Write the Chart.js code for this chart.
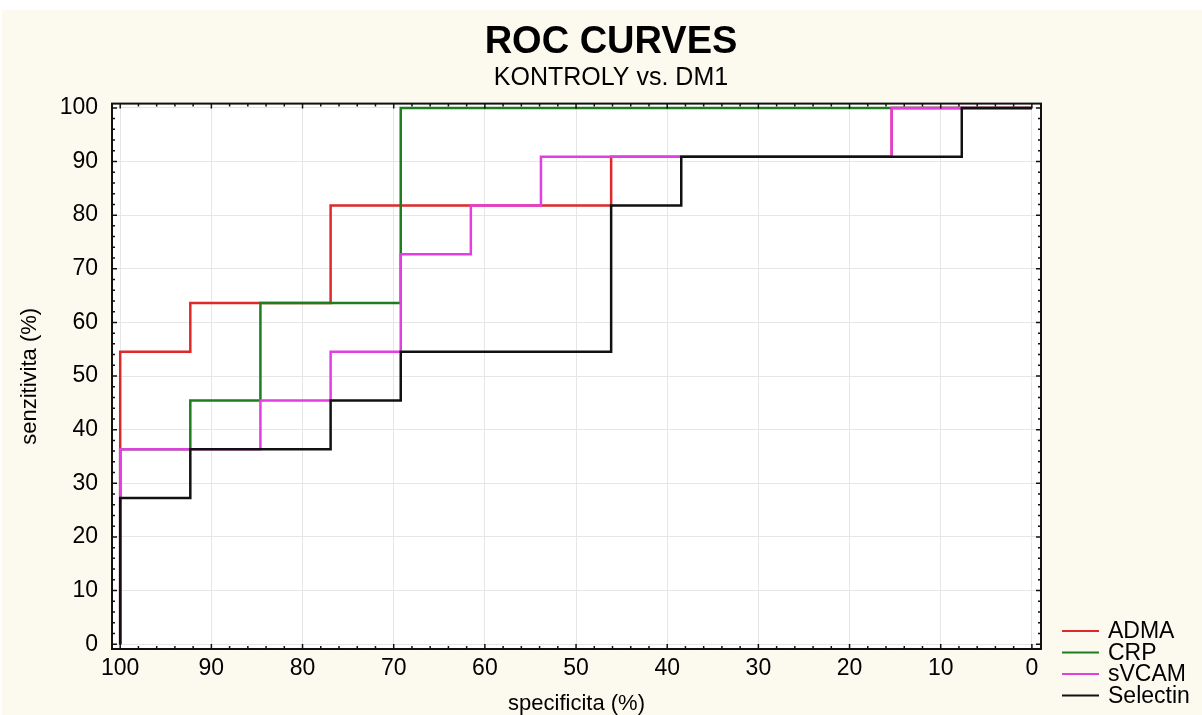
<!DOCTYPE html>
<html>
<head>
<meta charset="utf-8">
<script src="https://cdn.jsdelivr.net/npm/chart.js@4.4.0/dist/chart.umd.min.js"></script>
<style>
  html, body { margin: 0; padding: 0; background: #ffffff; }
  #paper { position: absolute; left: 2px; top: 10px; width: 1200px; height: 705px; background: #fcf9ef; }
  #wrap { position: absolute; left: 0; top: 0; width: 1202px; height: 715px; }
</style>
</head>
<body>
<div id="paper"></div>
<div id="wrap"><canvas id="roc" width="1202" height="715"></canvas></div>
<script>
// ROC staircases: specificity (%) on x, sensitivity (%) on y
const admaSpec = [100, 100, 92.31, 92.31, 76.92, 76.92, 46.15, 46.15, 15.38, 15.38, 0];
const admaSens = [0, 54.55, 54.55, 63.64, 63.64, 81.82, 81.82, 90.91, 90.91, 100, 100];

const crpSpec = [100, 100, 92.31, 92.31, 84.62, 84.62, 69.23, 69.23, 0];
const crpSens = [0, 36.36, 36.36, 45.45, 45.45, 63.64, 63.64, 100, 100];

const svcamSpec = [100, 100, 84.62, 84.62, 76.92, 76.92, 69.23, 69.23, 61.54, 61.54, 53.85, 53.85, 15.38, 15.38, 0];
const svcamSens = [0, 36.36, 36.36, 45.45, 45.45, 54.55, 54.55, 72.73, 72.73, 81.82, 81.82, 90.91, 90.91, 100, 100];

const selectinSpec = [100, 100, 92.31, 92.31, 76.92, 76.92, 69.23, 69.23, 46.15, 46.15, 38.46, 38.46, 7.69, 7.69, 0];
const selectinSens = [0, 27.27, 27.27, 36.36, 36.36, 45.45, 45.45, 54.55, 54.55, 81.82, 81.82, 90.91, 90.91, 100, 100];

const xTicks = [0, 10, 20, 30, 40, 50, 60, 70, 80, 90, 100];
const yTicks = [0, 10, 20, 30, 40, 50, 60, 70, 80, 90, 100];

const FONT = '"Liberation Sans", Arial, Helvetica, sans-serif';

function toPoints(xs, ys) {
  return xs.map((v, i) => ({ x: v, y: ys[i] }));
}

function rocSet(label, xs, ys, color, order) {
  return {
    label: label,
    data: toPoints(xs, ys),
    borderColor: color,
    backgroundColor: color,
    borderWidth: 2.5,
    pointRadius: 0,
    fill: false,
    tension: 0,
    order: order
  };
}

// white plot area + black frame with inward ticks on all four sides
const framePlugin = {
  id: 'frame',
  beforeDraw(chart) {
    const { ctx, chartArea: a } = chart;
    ctx.save();
    ctx.fillStyle = '#ffffff';
    ctx.fillRect(a.left, a.top, a.right - a.left, a.bottom - a.top);
    ctx.restore();
  },
  afterDatasetsDraw(chart) {
    const { ctx, chartArea: a } = chart;
    const x = chart.scales.x, y = chart.scales.y;
    ctx.save();
    ctx.strokeStyle = '#111';
    ctx.lineWidth = 2;
    ctx.strokeRect(a.left, a.top, a.right - a.left, a.bottom - a.top);
    ctx.lineWidth = 1.5;
    ctx.beginPath();
    for (let v = 0; v <= 100; v += 2) {
      const len = v % 10 === 0 ? 5 : 3;
      const px = x.getPixelForValue(v);
      const py = y.getPixelForValue(v);
      ctx.moveTo(px, a.top); ctx.lineTo(px, a.top + len);
      ctx.moveTo(px, a.bottom); ctx.lineTo(px, a.bottom - len);
      ctx.moveTo(a.left, py); ctx.lineTo(a.left + len, py);
      ctx.moveTo(a.right, py); ctx.lineTo(a.right - len, py);
    }
    ctx.stroke();
    ctx.restore();
  }
};

// legend in the bottom right corner, outside the plot
const sideLegend = {
  id: 'sideLegend',
  afterDraw(chart) {
    const { ctx, chartArea: a } = chart;
    const x0 = a.right + 21;
    const rowH = 21.5;
    const y0 = 631;
    ctx.save();
    ctx.font = '23px ' + FONT;
    ctx.textBaseline = 'middle';
    ctx.textAlign = 'left';
    chart.data.datasets.forEach((ds, i) => {
      const yy = y0 + i * rowH;
      ctx.strokeStyle = ds.borderColor;
      ctx.lineWidth = 2;
      ctx.beginPath();
      ctx.moveTo(x0, yy);
      ctx.lineTo(x0 + 37, yy);
      ctx.stroke();
      ctx.fillStyle = '#000';
      ctx.fillText(ds.label, x0 + 46, yy + 1);
    });
    ctx.restore();
  }
};

const ctx = document.getElementById('roc').getContext('2d');
const chart = new Chart(ctx, {
  type: 'line',
  data: {
    datasets: [
      rocSet('ADMA', admaSpec, admaSens, '#dc2a2a', 3),
      rocSet('CRP', crpSpec, crpSens, '#1e7d1e', 2),
      rocSet('sVCAM', svcamSpec, svcamSens, '#e23ee2', 1),
      rocSet('Selectin', selectinSpec, selectinSens, '#111111', 0)
    ]
  },
  options: {
    responsive: false,
    animation: false,
    layout: { padding: { left: 20, right: 0, top: 0, bottom: 0 } },
    plugins: {
      legend: { display: false },
      tooltip: { enabled: false },
      title: {
        display: true,
        text: 'ROC CURVES',
        color: '#000',
        font: { family: FONT, size: 38, weight: 'bold' },
        padding: { top: 20, bottom: 0 }
      },
      subtitle: {
        display: true,
        text: 'KONTROLY vs. DM1',
        color: '#000',
        font: { family: FONT, size: 25 },
        padding: { top: -2, bottom: 10 }
      }
    },
    scales: {
      x: {
        type: 'linear',
        reverse: true,
        min: -1,
        max: 100.9,
        afterBuildTicks: s => { s.ticks = xTicks.map(v => ({ value: v })); },
        afterFit: s => { s.height = 66; },
        grid: { color: '#e6e6e6', lineWidth: 1, drawTicks: false },
        border: { display: false },
        ticks: { color: '#000', font: { family: FONT, size: 23 }, padding: 6, maxRotation: 0 },
        title: {
          display: true,
          text: 'specificita (%)',
          color: '#000',
          font: { family: FONT, size: 22 },
          padding: { top: 0, bottom: -2 }
        }
      },
      y: {
        type: 'linear',
        min: -0.9,
        max: 100.8,
        afterBuildTicks: s => { s.ticks = yTicks.map(v => ({ value: v })); },
        afterFit: s => { s.width = 92; },
        grid: { color: '#e6e6e6', lineWidth: 1, drawTicks: false },
        border: { display: false },
        ticks: { color: '#000', font: { family: FONT, size: 23 }, padding: 14 },
        title: {
          display: true,
          text: 'senzitivita (%)',
          color: '#000',
          font: { family: FONT, size: 22 },
          padding: { top: -3, bottom: 0 }
        }
      },
      // empty right-hand axis that keeps room for the legend
      yRight: {
        type: 'linear',
        position: 'right',
        min: -0.9,
        max: 100.8,
        afterFit: s => { s.width = 161; },
        grid: { display: false, drawTicks: false },
        border: { display: false },
        ticks: { display: false }
      }
    }
  },
  plugins: [framePlugin, sideLegend]
});
</script>
</body>
</html>
